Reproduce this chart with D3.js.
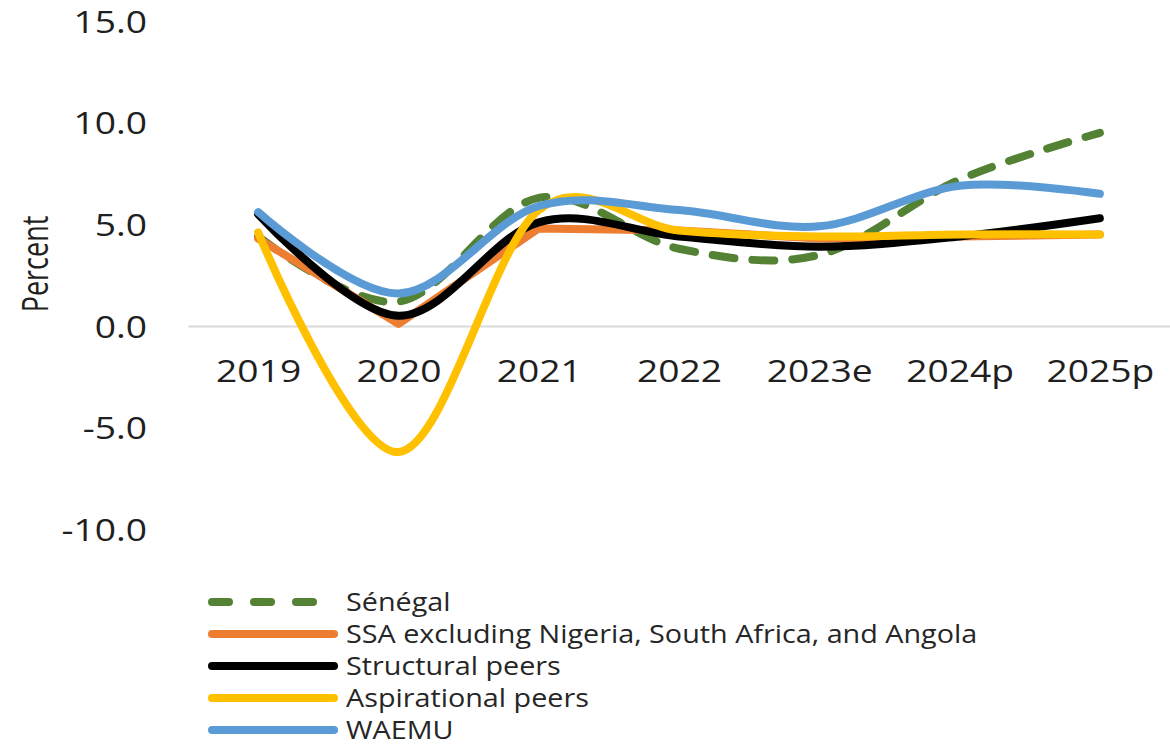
<!DOCTYPE html>
<html>
<head>
  <title>Growth comparison</title>
  <script src="https://d3js.org/d3.v7.min.js"></script>
  <style>
    body { margin: 0; background: #fff; }
    text { font-family: "Open Sans", sans-serif; fill: #262626; }
  </style>
</head>
<body>
  <div id="chart"></div>

  <script>
    var years = ["2019", "2020", "2021", "2022", "2023e", "2024p", "2025p"];

    var senegal = [4.4, 1.2, 6.3, 3.8, 3.5, 7.2, 9.5];
    var ssaExcl = [4.3, 0.1, 4.8, 4.7, 4.3, 4.4, 4.5];
    var structural = [5.5, 0.5, 5.1, 4.4, 3.9, 4.4, 5.3];
    var aspirational = [4.6, -6.2, 5.7, 4.7, 4.4, 4.5, 4.5];
    var waemu = [5.6, 1.6, 5.9, 5.7, 4.9, 6.9, 6.5];

    var yTicks = [-10, -5, 0, 5, 10, 15];

    var seriesNames = ["Sénégal", "SSA excluding Nigeria, South Africa, and Angola",
      "Structural peers", "Aspirational peers", "WAEMU"];

    var series = [
      { name: seriesNames[0], values: senegal, color: "#548235", dash: "22,18", smooth: true },
      { name: seriesNames[1], values: ssaExcl, color: "#ED7D31", dash: null, smooth: false },
      { name: seriesNames[2], values: structural, color: "#000000", dash: null, smooth: true },
      { name: seriesNames[3], values: aspirational, color: "#FFC000", dash: null, smooth: true },
      { name: seriesNames[4], values: waemu, color: "#5B9BD5", dash: null, smooth: true }
    ];

    var width = 1170;
    var height = 745;
    var sx = 1.2; // the original is stretched sideways

    var svg = d3.select("#chart")
      .append("svg")
      .attr("width", width)
      .attr("height", height);

    var x = d3.scalePoint()
      .domain(years)
      .range([188, 1170])
      .padding(0.5);

    var y = d3.scaleLinear()
      .domain([-10, 15])
      .range([529.3, 21]);

    // y axis labels
    var yAxis = svg.append("g")
      .attr("transform", "translate(147,0)")
      .call(d3.axisLeft(y).tickValues(yTicks).tickSize(0).tickPadding(0)
        .tickFormat(function(d) { return d.toFixed(1); }));
    yAxis.select(".domain").remove();
    yAxis.selectAll("text")
      .attr("x", 0)
      .attr("dy", "0.36em")
      .attr("transform", "scale(" + sx + ",1)")
      .style("font-family", "Open Sans")
      .style("font-size", "31px")
      .style("fill", "#1f1f1f");

    // x axis at zero
    var xAxis = svg.append("g")
      .attr("transform", "translate(0," + y(0) + ")")
      .call(d3.axisBottom(x).tickSize(0));
    xAxis.select(".domain")
      .attr("stroke", "#D9D9D9")
      .attr("stroke-width", 2);
    xAxis.selectAll("text")
      .attr("y", 56)
      .attr("dy", 0)
      .attr("transform", "scale(" + sx + ",1)")
      .style("font-family", "Open Sans")
      .style("font-size", "31px")
      .style("fill", "#1f1f1f");

    svg.append("text")
      .attr("transform", "translate(48,264) scale(1.35,1) rotate(-90)")
      .attr("text-anchor", "middle")
      .style("font-size", "27px")
      .style("fill", "#1f1f1f")
      .text("Percent");

    var smoothLine = d3.line()
      .x(function(d, i) { return x(years[i]); })
      .y(function(d) { return y(d); })
      .curve(d3.curveCardinal.tension(0));

    var straightLine = d3.line()
      .x(function(d, i) { return x(years[i]); })
      .y(function(d) { return y(d); });

    svg.selectAll(".series")
      .data(series)
      .enter()
      .append("path")
      .attr("class", "series")
      .attr("d", function(d) { return d.smooth ? smoothLine(d.values) : straightLine(d.values); })
      .attr("fill", "none")
      .attr("stroke", function(d) { return d.color; })
      .attr("stroke-width", 8)
      .attr("stroke-linecap", "round")
      .attr("stroke-linejoin", "round")
      .attr("stroke-dasharray", function(d) { return d.dash; });

    // legend
    var legend = svg.selectAll(".legend")
      .data(series)
      .enter()
      .append("g")
      .attr("class", "legend")
      .attr("transform", function(d, i) { return "translate(0," + (602 + i * 32) + ")"; });

    legend.append("line")
      .attr("x1", 212)
      .attr("x2", 334)
      .attr("stroke", function(d) { return d.color; })
      .attr("stroke-width", 8)
      .attr("stroke-linecap", "round")
      .attr("stroke-dasharray", function(d) { return d.dash ? "17,25" : null; });

    legend.append("text")
      .attr("transform", "translate(346,0) scale(1.15,1)")
      .attr("dy", "0.34em")
      .style("font-size", "25px")
      .text(function(d) { return d.name; });
  </script>
</body>
</html>
